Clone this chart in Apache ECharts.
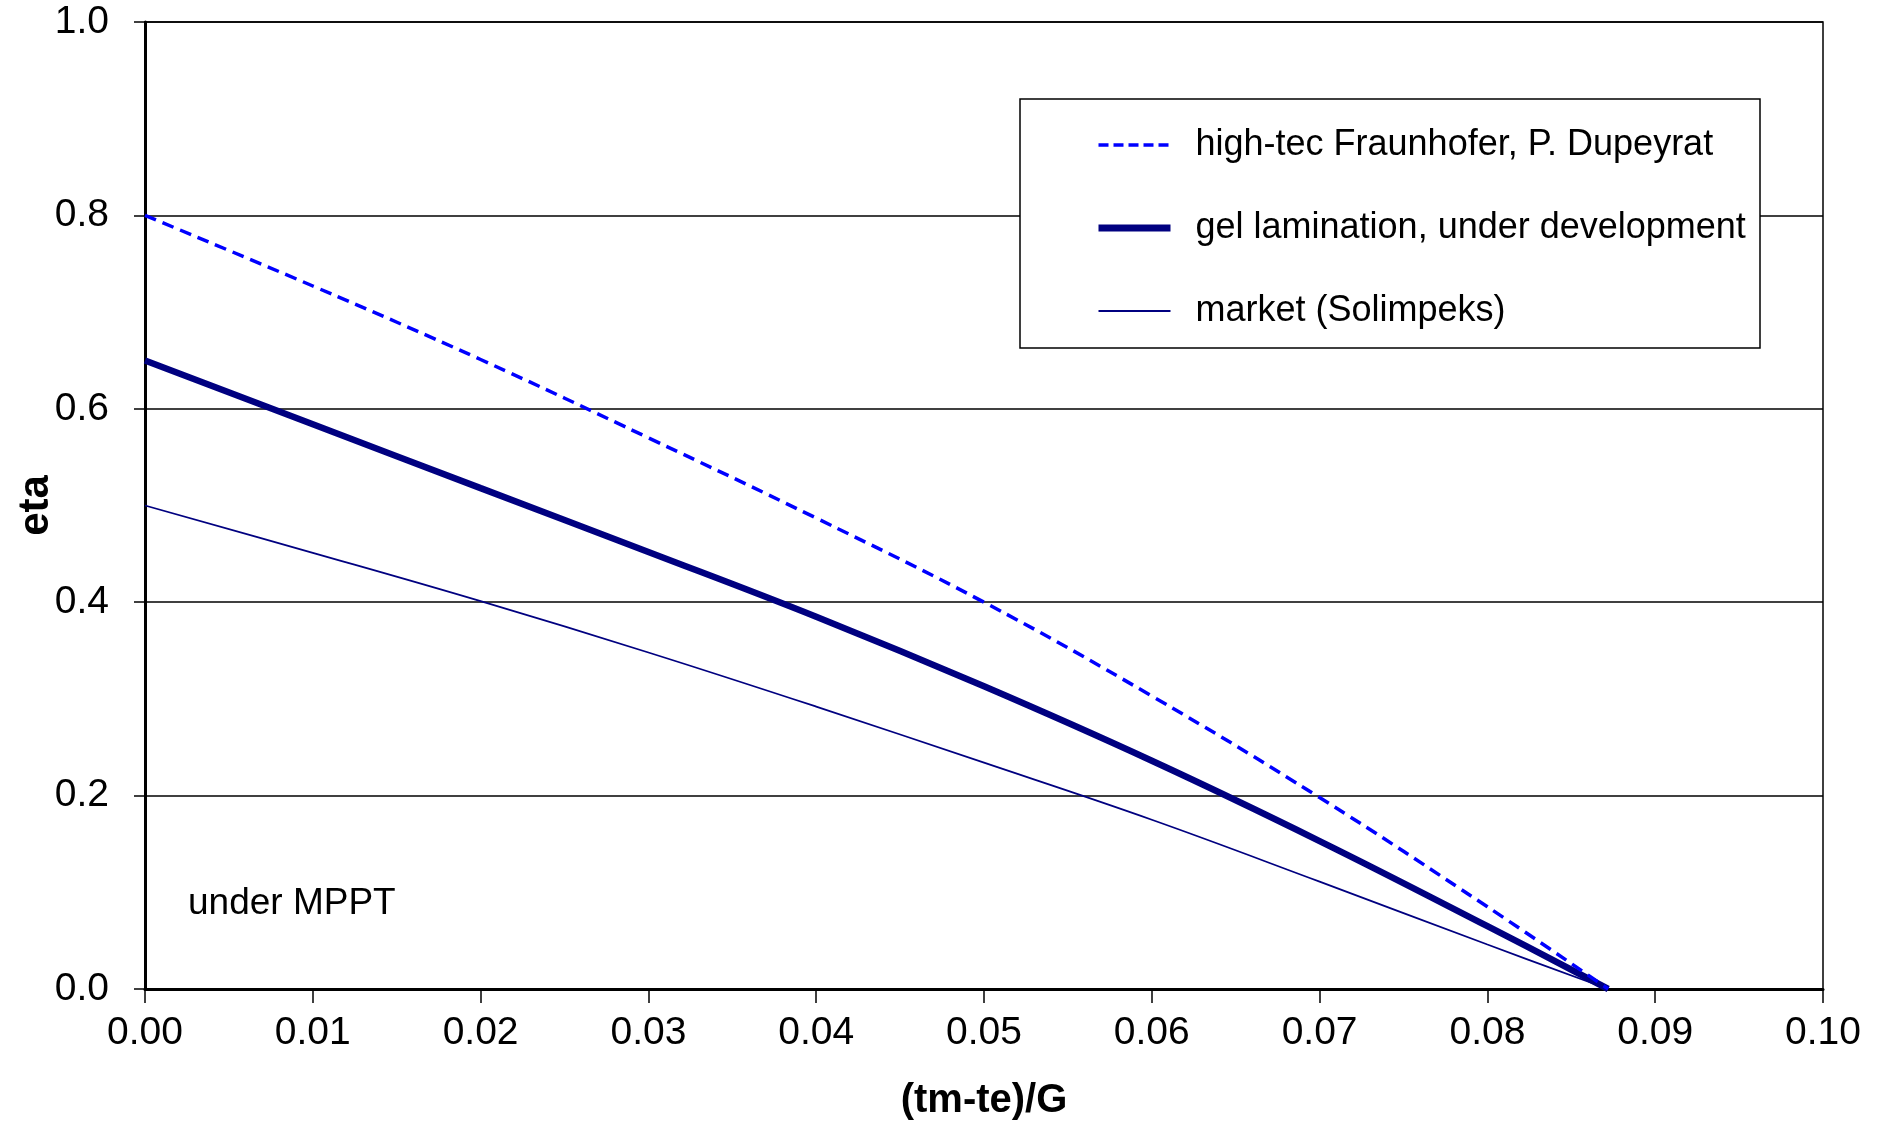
<!DOCTYPE html>
<html>
<head>
<meta charset="utf-8">
<script src="https://cdn.jsdelivr.net/npm/echarts@6/dist/echarts.min.js"></script>
<style>
  html, body { margin: 0; padding: 0; background: #fff; }
  #chart_1 { width: 1877px; height: 1127px; }
</style>
</head>
<body>
<div id="chart_1"></div>
<script>
var FONT = "'Liberation Sans Narrow', 'Arial Narrow', 'Liberation Sans', sans-serif";

// values
var xs = [0, 0.01, 0.02, 0.03, 0.04, 0.05, 0.06, 0.07, 0.08, 0.0872];
var highTec = [0.80, 0.727, 0.651, 0.570, 0.487, 0.400, 0.303, 0.198, 0.085, 0];
var gelLam = [0.65, 0.584, 0.518, 0.452, 0.385, 0.313, 0.236, 0.153, 0.065, 0];
var market = [0.50, 0.451, 0.401, 0.348, 0.292, 0.234, 0.175, 0.111, 0.046, 0];
var names = ['high-tec Fraunhofer, P. Dupeyrat', 'gel lamination, under development', 'market (Solimpeks)'];

function pairs(ys) {
    return xs.map(function (x, i) { return [x, ys[i]]; });
}

var dom = document.getElementById("chart_1");
var myChart = echarts.init(dom);

var option = {
    animation: false,
    backgroundColor: '#fff',
    textStyle: { fontFamily: FONT },
    grid: {
        left: 145, right: 54, top: 22, bottom: 138,
        outerBoundsMode: 'none',
        containLabel: false,
        show: true, borderColor: '#000', borderWidth: 1.5,
        backgroundColor: 'transparent'
    },
    xAxis: {
        type: 'value',
        min: 0, max: 0.1, interval: 0.01,
        name: '(tm-te)/G',
        nameLocation: 'middle',
        nameGap: 92,
        nameMoveOverlap: false,
        nameTextStyle: { fontFamily: FONT, fontSize: 40, fontWeight: 'bold', color: '#000' },
        axisLine: { show: true, onZero: false, lineStyle: { color: '#000', width: 3 } },
        axisTick: { show: true, inside: false, length: 14, lineStyle: { color: '#000', width: 1.5 } },
        axisLabel: {
            margin: 25, fontSize: 39, color: '#000', fontFamily: FONT,
            formatter: function (v) { return v.toFixed(2); }
        },
        splitLine: { show: false }
    },
    yAxis: {
        type: 'value',
        min: 0, max: 1.0, interval: 0.2,
        name: 'eta',
        nameLocation: 'middle',
        nameGap: 88,
        nameRotate: 90,
        nameMoveOverlap: false,
        nameTextStyle: { fontFamily: FONT, fontSize: 42, fontWeight: 'bold', color: '#000' },
        axisLine: { show: true, onZero: false, lineStyle: { color: '#000', width: 3 } },
        axisTick: { show: true, inside: false, length: 11, lineStyle: { color: '#000', width: 1.5 } },
        axisLabel: {
            margin: 36, fontSize: 39, color: '#000', fontFamily: FONT,
            formatter: function (v) { return v.toFixed(1); }
        },
        splitLine: { show: true, lineStyle: { color: '#000', width: 1.5 } }
    },
    legend: {
        left: 1095, top: 125,
        orient: 'vertical',
        itemWidth: 72, itemHeight: 14,
        itemGap: 43,
        padding: 0,
        textStyle: { fontFamily: FONT, fontSize: 36, color: '#000', padding: [0, 0, 0, 20], lineHeight: 40 },
        data: [
            { name: names[0], itemStyle: { opacity: 0 }, lineStyle: { color: '#0000ff', width: 3.5, type: [10, 5] } },
            { name: names[1], itemStyle: { opacity: 0 }, lineStyle: { color: '#000080', width: 7 } },
            { name: names[2], itemStyle: { opacity: 0 }, lineStyle: { color: '#000080', width: 1.8 } }
        ],
        z: 10
    },
    graphic: [
        {
            type: 'rect', z: 5,
            shape: { x: 1020, y: 99, width: 740, height: 249 },
            style: { fill: '#fff', stroke: '#000', lineWidth: 1.5 }
        },
        {
            type: 'text', z: 10,
            left: 188, top: 885,
            style: { text: 'under MPPT', font: '37px ' + FONT, fill: '#000' }
        }
    ],
    series: [
        {
            name: names[0], type: 'line', smooth: 0.4, symbol: 'none',
            data: pairs(highTec),
            lineStyle: { color: '#0000ff', width: 3.5, type: [12, 7] },
            itemStyle: { color: '#0000ff' },
            z: 3
        },
        {
            name: names[1], type: 'line', smooth: 0.4, symbol: 'none',
            data: pairs(gelLam),
            lineStyle: { color: '#000080', width: 6.5 },
            itemStyle: { color: '#000080' },
            z: 2
        },
        {
            name: names[2], type: 'line', smooth: 0.4, symbol: 'none',
            data: pairs(market),
            lineStyle: { color: '#000080', width: 1.8 },
            itemStyle: { color: '#000080' },
            z: 2
        }
    ]
};
myChart.setOption(option);
</script>
</body>
</html>
